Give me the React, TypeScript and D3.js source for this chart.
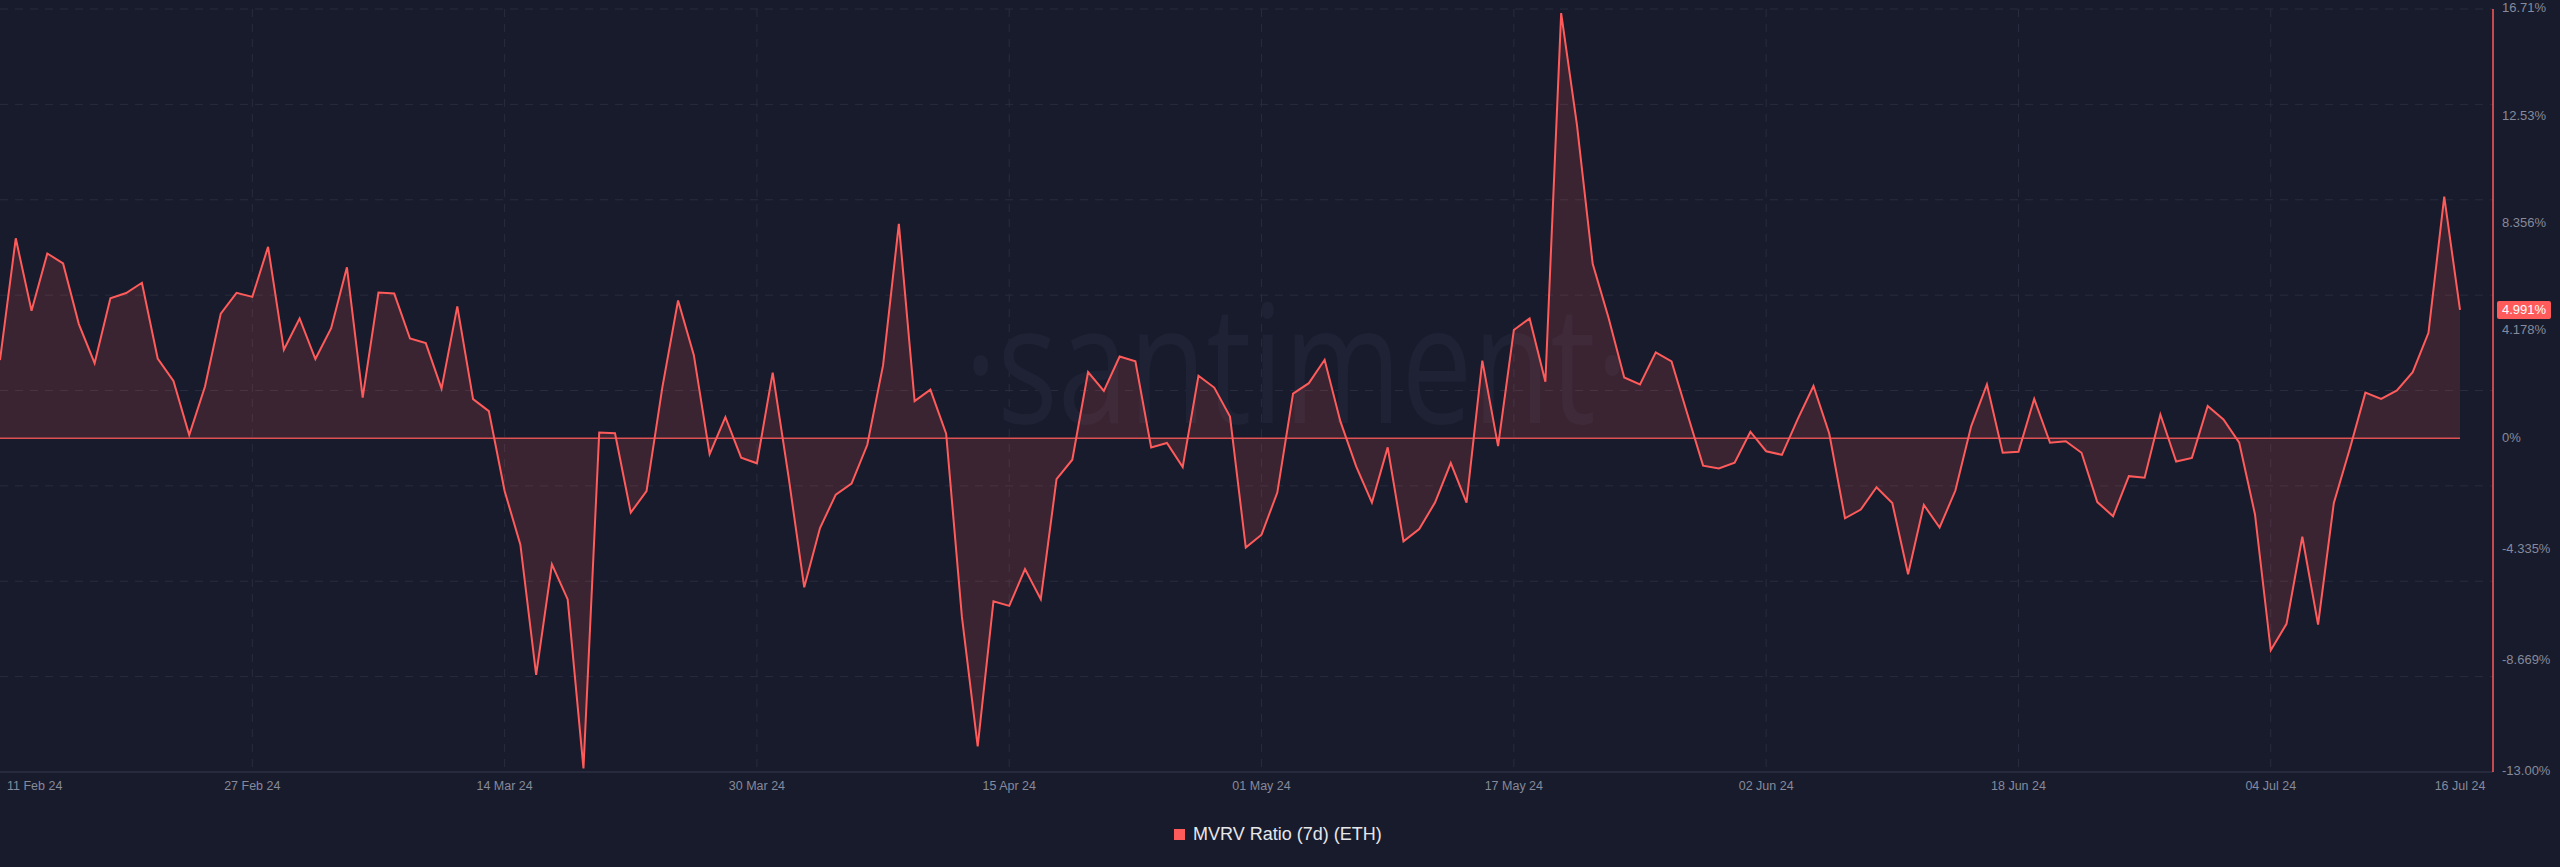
import { useEffect, useRef } from 'react';
import * as d3 from 'd3';

// daily MVRV ratio (7d) for ETH, 11 Feb 24 -> 16 Jul 24, in %
const startDate = '2024-02-11';
const mvrvValues = [
  3.04, 7.78, 4.96, 7.19, 6.8, 4.44, 2.92, 5.45, 5.65, 6.05,
  3.1, 2.23, 0.12, 2.01, 4.85, 5.66, 5.5, 7.45, 3.44, 4.66,
  3.08, 4.28, 6.65, 1.58, 5.67, 5.63, 3.88, 3.7, 1.93, 5.13,
  1.52, 1.05, -2.06, -4.15, -9.22, -4.91, -6.28, -12.86, 0.22, 0.19,
  -2.9, -2.06, 1.97, 5.36, 3.23, -0.62, 0.82, -0.76, -0.98, 2.55,
  -1.48, -5.81, -3.5, -2.2, -1.77, -0.26, 2.84, 8.34, 1.44, 1.89,
  0.17, -6.96, -12.0, -6.35, -6.53, -5.1, -6.27, -1.6, -0.84, 2.57,
  1.84, 3.18, 2.99, -0.36, -0.19, -1.13, 2.43, 1.97, 0.84, -4.26,
  -3.76, -2.12, 1.73, 2.14, 3.05, 0.65, -1.1, -2.51, -0.36, -4.02,
  -3.54, -2.51, -0.97, -2.51, 3.02, -0.31, 4.21, 4.66, 2.2, 16.55,
  12.21, 6.79, 4.7, 2.36, 2.09, 3.34, 2.99, 0.95, -1.07, -1.18,
  -0.96, 0.25, -0.51, -0.65, 0.74, 2.03, 0.18, -3.12, -2.78, -1.91,
  -2.53, -5.3, -2.6, -3.48, -2.04, 0.46, 2.09, -0.57, -0.53, 1.53,
  -0.18, -0.12, -0.57, -2.49, -3.04, -1.48, -1.54, 0.92, -0.91, -0.77,
  1.25, 0.73, -0.18, -2.97, -8.26, -7.23, -3.84, -7.26, -2.52, -0.44,
  1.77, 1.53, 1.86, 2.57, 4.1, 9.4, 4.991,
];

const yTickValues = [16.71, 12.53, 8.356, 4.178, 0, -4.335, -8.669, -13.0];
const yTickLabels = ['16.71%', '12.53%', '8.356%', '4.178%', '0%', '-4.335%', '-8.669%', '-13.00%'];

const xTickDates = [
  '2024-02-11', '2024-02-27', '2024-03-14', '2024-03-30', '2024-04-15', '2024-05-01',
  '2024-05-17', '2024-06-02', '2024-06-18', '2024-07-04', '2024-07-16',
];
const xTickLabels = [
  '11 Feb 24', '27 Feb 24', '14 Mar 24', '30 Mar 24', '15 Apr 24', '01 May 24',
  '17 May 24', '02 Jun 24', '18 Jun 24', '04 Jul 24', '16 Jul 24',
];

const seriesName = 'MVRV Ratio (7d) (ETH)';
const lastValueLabel = '4.991%';

const LINE = '#ff5b5b';
const BG = '#181b2b';
const GRID = '#282c3e';
const TEXT = '#858a9c';

export default function App() {
  const ref = useRef<SVGSVGElement>(null);

  useEffect(() => {
    if (!ref.current) return;
    const svg = d3.select(ref.current);
    svg.selectAll('*').remove();

    const W = 2560;
    const H = 867;
    const top = 9;
    const bottom = 772;
    const axisX = 2493;
    const plotRight = 2460;

    const parse = d3.utcParse('%Y-%m-%d');
    const start = parse(startDate) as Date;
    const data = mvrvValues.map((v, i) => ({ date: d3.utcDay.offset(start, i), value: v }));

    const x = d3.scaleUtc()
      .domain([data[0].date, data[data.length - 1].date])
      .range([0, plotRight]);

    const y = d3.scaleLinear()
      .domain([-13.0, 16.71])
      .range([bottom, top]);

    svg.append('rect').attr('width', W).attr('height', H).attr('fill', BG);

    // horizontal grid (even split of the plot height)
    const gridYs = d3.range(0, 9).map(i => top + (i * (bottom - top)) / 8);
    svg.append('g')
      .selectAll('line')
      .data(gridYs.slice(0, 8))
      .enter()
      .append('line')
      .attr('x1', 0)
      .attr('x2', axisX)
      .attr('y1', d => d)
      .attr('y2', d => d)
      .attr('stroke', GRID)
      .attr('stroke-width', 1)
      .attr('stroke-dasharray', '8,7');

    // vertical grid at date ticks
    const tickDates = xTickDates.map(d => parse(d) as Date);
    svg.append('g')
      .selectAll('line')
      .data(tickDates.slice(1, -1))
      .enter()
      .append('line')
      .attr('x1', d => x(d))
      .attr('x2', d => x(d))
      .attr('y1', top)
      .attr('y2', bottom)
      .attr('stroke', GRID)
      .attr('stroke-width', 1)
      .attr('stroke-dasharray', '8,7');

    // bottom axis line
    svg.append('line')
      .attr('x1', 0)
      .attr('x2', axisX)
      .attr('y1', bottom)
      .attr('y2', bottom)
      .attr('stroke', '#2c3043')
      .attr('stroke-width', 1.5);

    // watermark
    svg.append('text')
      .attr('x', 964)
      .attr('y', 423)
      .attr('textLength', 665)
      .attr('lengthAdjust', 'spacingAndGlyphs')
      .style('font-family', '"Open Sans", sans-serif')
      .style('font-size', '165px')
      .style('fill', '#1e2234')
      .text('·santiment·');

    // area
    const area = d3.area<{ date: Date; value: number }>()
      .x(d => x(d.date))
      .y0(y(0))
      .y1(d => y(d.value));

    svg.append('path')
      .datum(data)
      .attr('fill', LINE)
      .attr('fill-opacity', 0.15)
      .attr('d', area);

    // zero baseline
    svg.append('line')
      .attr('x1', x(data[0].date))
      .attr('x2', x(data[data.length - 1].date))
      .attr('y1', y(0))
      .attr('y2', y(0))
      .attr('stroke', LINE)
      .attr('stroke-opacity', 0.85)
      .attr('stroke-width', 1.5);

    const line = d3.line<{ date: Date; value: number }>()
      .x(d => x(d.date))
      .y(d => y(d.value));

    svg.append('path')
      .datum(data)
      .attr('fill', 'none')
      .attr('stroke', LINE)
      .attr('stroke-width', 2)
      .attr('stroke-linejoin', 'miter')
      .attr('d', line);

    // right axis line
    svg.append('line')
      .attr('x1', axisX)
      .attr('x2', axisX)
      .attr('y1', top)
      .attr('y2', bottom)
      .attr('stroke', LINE)
      .attr('stroke-width', 1.5);

    // y labels
    svg.append('g')
      .selectAll('text')
      .data(yTickValues)
      .enter()
      .append('text')
      .attr('x', 2502)
      .attr('y', d => y(d))
      .attr('dominant-baseline', 'middle')
      .style('font-family', '"Liberation Sans", Arial, sans-serif')
      .style('font-size', '13px')
      .style('fill', TEXT)
      .text((d, i) => yTickLabels[i]);

    // last value badge
    const lastY = y(data[data.length - 1].value);
    svg.append('rect')
      .attr('x', 2497)
      .attr('y', lastY - 9)
      .attr('width', 54)
      .attr('height', 18)
      .attr('rx', 2)
      .attr('fill', LINE);
    svg.append('text')
      .attr('x', 2524)
      .attr('y', lastY + 0.5)
      .attr('text-anchor', 'middle')
      .attr('dominant-baseline', 'middle')
      .style('font-family', '"Liberation Sans", Arial, sans-serif')
      .style('font-size', '13px')
      .style('fill', '#ffffff')
      .text(lastValueLabel);

    // x labels (first one pinned to the left edge)
    svg.append('g')
      .selectAll('text')
      .data(tickDates)
      .enter()
      .append('text')
      .attr('x', (d, i) => (i === 0 ? 7 : x(d)))
      .attr('y', 787)
      .attr('text-anchor', (d, i) => (i === 0 ? 'start' : 'middle'))
      .attr('dominant-baseline', 'middle')
      .style('font-family', '"Liberation Sans", Arial, sans-serif')
      .style('font-size', '12.5px')
      .style('fill', TEXT)
      .text((d, i) => xTickLabels[i]);

    // legend
    const legend = svg.append('g').attr('transform', 'translate(1174, 829)');
    legend.append('rect')
      .attr('width', 11)
      .attr('height', 11)
      .attr('fill', LINE);
    legend.append('text')
      .attr('x', 19)
      .attr('y', 6)
      .attr('dominant-baseline', 'middle')
      .style('font-family', '"Liberation Sans", Arial, sans-serif')
      .style('font-size', '18px')
      .style('fill', '#e6e7eb')
      .text(seriesName);
  }, []);

  return (
    <svg
      ref={ref}
      width={2560}
      height={867}
      style={{ position: 'absolute', left: 0, top: 0, display: 'block' }}
    />
  );
}
